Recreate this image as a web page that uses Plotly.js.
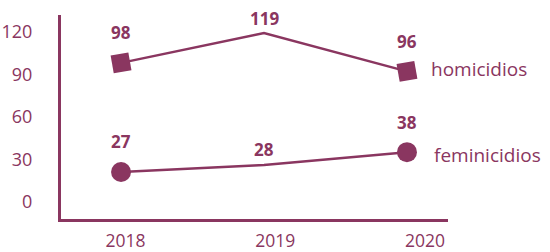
<!DOCTYPE html>
<html><head><meta charset="utf-8">
<script src="https://cdn.plot.ly/plotly-3.0.1.min.js"></script>
<style>html,body{margin:0;padding:0;background:#fff}#chart{width:550px;height:252px}</style>
</head><body><div id="chart"></div>
<script>
const years = [2018, 2019, 2020];
const tickLabels = ['2018', '2019', '2020'];
const homicidios = [98, 119, 92];
const homicidiosLabels = ['98', '119', '96'];
const feminicidios = [21, 26, 35];
const feminicidiosLabels = ['27', '28', '38'];
const seriesNames = ['homicidios', 'feminicidios'];
const yTicks = [0, 30, 60, 90, 120];

const C = '#8a3660';
const FONT = 'Open Sans, sans-serif';

const traces = [
  {x: years, y: homicidios, mode: 'lines+markers',
   line: {color: C, width: 2.5},
   marker: {symbol: 'square', size: [18, 0, 18], angle: -10, color: C, opacity: 1, line: {width: 0}},
   cliponaxis: false, hoverinfo: 'skip', xaxis: 'x', yaxis: 'y'},
  {x: years, y: feminicidios, mode: 'lines+markers',
   line: {color: C, width: 2.5},
   marker: {symbol: 'circle', size: [20, 0, 20], color: C, opacity: 1, line: {width: 0}},
   cliponaxis: false, hoverinfo: 'skip', xaxis: 'x', yaxis: 'y'},
  {x: years, y: [0, 0, 0], mode: 'markers', marker: {opacity: 0}, hoverinfo: 'skip',
   xaxis: 'x2', yaxis: 'y'}
];

const last = years.length - 1;
const annotations = [];
function addValueLabels(vals, labels) {
  vals.forEach((v, i) => {
    const isEnd = i === 0 || i === last;
    annotations.push({x: years[i], y: v, xref: 'x', yref: 'y', text: '<b>' + labels[i] + '</b>',
      showarrow: false, yanchor: 'middle', yshift: isEnd ? 30 : 15,
      font: {family: FONT, size: 17, color: C}});
  });
}
addValueLabels(homicidios, homicidiosLabels);
addValueLabels(feminicidios, feminicidiosLabels);
annotations.push(
  {x: years[last], y: homicidios[last], xref: 'x', yref: 'y', text: seriesNames[0],
   showarrow: false, xanchor: 'left', xshift: 22, yshift: 2,
   font: {family: FONT, size: 19, color: C}},
  {x: years[last], y: feminicidios[last], xref: 'x', yref: 'y', text: seriesNames[1],
   showarrow: false, xanchor: 'left', xshift: 25, yshift: -3,
   font: {family: FONT, size: 19, color: C}}
);

const layout = {
  width: 550, height: 252,
  margin: {l: 61, r: 102, t: 15, b: 33},
  paper_bgcolor: '#fff', plot_bgcolor: '#fff',
  showlegend: false,
  font: {family: FONT, color: C},
  xaxis: {range: [2017.58, 2020.287], showgrid: false, zeroline: false,
          showline: true, linecolor: C, linewidth: 3, showticklabels: false, ticks: ''},
  xaxis2: {overlaying: 'x', anchor: 'y', side: 'bottom', range: [2017.569, 2020.154],
           tickvals: years, ticktext: tickLabels, showgrid: false, zeroline: false,
           showline: false, ticks: '', tickfont: {family: FONT, size: 17.5, color: C},
           ticklabelstandoff: 9},
  yaxis: {range: [-12.2, 131.8], tickvals: yTicks, showgrid: false, zeroline: false,
          showline: true, linecolor: C, linewidth: 3, ticks: '',
          tickfont: {family: FONT, size: 18, color: C}, ticklabelstandoff: 22},
  annotations: annotations
};

Plotly.newPlot('chart', traces, layout, {displayModeBar: false, staticPlot: true});
</script></body></html>
